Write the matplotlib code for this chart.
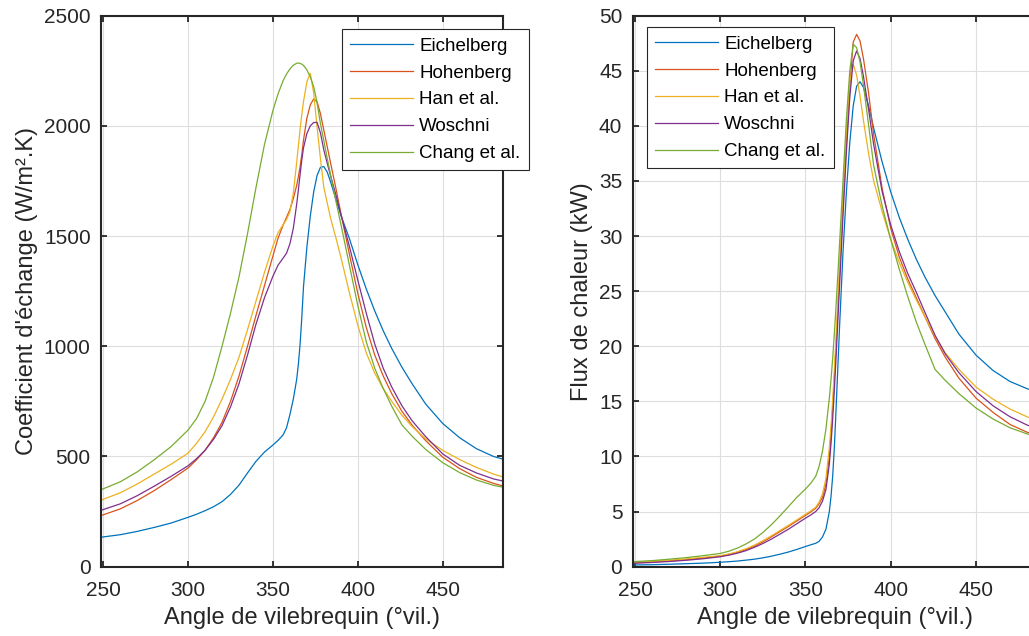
import numpy as np
import matplotlib
matplotlib.use('Agg')
import matplotlib.pyplot as plt

plt.rcParams['font.family'] = ['Liberation Sans', 'DejaVu Sans']

# crank angle (deg), shared by every curve
angle = [248, 260, 270, 280, 290, 300, 305, 310, 315, 320, 325, 330, 335, 340, 345,
         350, 353, 356, 358, 360, 362, 364, 365, 366, 367, 368, 370, 372, 374, 376,
         378, 380, 382, 384, 387, 390, 395, 400, 405, 410, 415, 420, 426, 432, 440,
         450, 460, 470, 480, 486]

names = ["Eichelberg", "Hohenberg", "Han et al.", "Woschni", "Chang et al."]
colors = ["#0072BD", "#D95319", "#EDB120", "#7E2F8E", "#77AC30"]

# heat transfer coefficient (W/m2.K)
h_eich = [133, 145, 160, 178, 198, 224, 238, 254, 272, 295, 328, 370, 425, 478, 520,
          552, 573, 598, 630, 690, 760, 850, 920, 1010, 1130, 1270, 1450, 1590, 1700, 1775,
          1812, 1815, 1790, 1745, 1670, 1595, 1490, 1370, 1260, 1160, 1070, 990, 905, 830, 738,
          650, 585, 535, 500, 487]
h_hohen = [230, 262, 300, 345, 395, 448, 485, 528, 585, 655, 750, 865, 1000, 1140, 1275,
           1410, 1490, 1550, 1585, 1620, 1670, 1730, 1770, 1815, 1870, 1935, 2035, 2095, 2122, 2110,
           2055, 1980, 1905, 1830, 1720, 1605, 1420, 1240, 1085, 960, 865, 785, 705, 642, 572,
           497, 445, 405, 378, 365]
h_han = [300, 335, 375, 420, 465, 515, 560, 612, 680, 760, 850, 950, 1075, 1205, 1335,
         1455, 1515, 1552, 1575, 1610, 1695, 1835, 1910, 1985, 2050, 2110, 2200, 2238, 2150, 1995,
         1850, 1720, 1650, 1580, 1495, 1405, 1245, 1095, 970, 878, 808, 750, 687, 636, 580,
         528, 486, 450, 420, 406]
h_wosch = [254, 285, 322, 365, 410, 458, 490, 528, 578, 640, 725, 830, 960, 1100, 1220,
           1318, 1368, 1400, 1422, 1465, 1535, 1645, 1710, 1780, 1845, 1900, 1965, 2000, 2015, 2016,
           1968, 1890, 1830, 1772, 1690, 1600, 1455, 1300, 1150, 1010, 900, 815, 730, 662, 590,
           512, 460, 425, 398, 388]
h_chang = [347, 385, 430, 485, 545, 620, 672, 750, 860, 1000, 1150, 1315, 1510, 1720, 1915,
           2070, 2145, 2205, 2235, 2258, 2275, 2284, 2285, 2283, 2280, 2274, 2254, 2222, 2178, 2105,
           2010, 1932, 1852, 1776, 1662, 1555, 1370, 1185, 1020, 900, 808, 728, 643, 592, 532,
           472, 427, 393, 369, 360]

# heat flux (kW)
q_eich = [0.15, 0.18, 0.22, 0.27, 0.32, 0.4, 0.45, 0.51, 0.59, 0.68, 0.8, 0.95, 1.13, 1.33, 1.57,
          1.83, 1.98, 2.12, 2.3, 2.7, 3.4, 5.0, 6.4, 8.3, 11.0, 14.5, 21.8, 28.5, 34.0, 38.5,
          41.8, 43.6, 44.0, 43.5, 41.8, 39.8, 36.7, 34.0, 31.7, 29.7, 27.9, 26.3, 24.6, 23.1, 21.1,
          19.2, 17.8, 16.8, 16.15, 15.85]
q_hohen = [0.35, 0.42, 0.52, 0.63, 0.78, 0.95, 1.1, 1.3, 1.55, 1.85, 2.25, 2.7, 3.18, 3.65, 4.15,
           4.65, 4.95, 5.3, 5.7, 6.3, 7.5, 10.0, 12.0, 14.5, 17.3, 20.2, 26.5, 32.8, 38.5, 43.5,
           47.6, 48.3, 47.7, 46.1, 43.0, 39.2, 34.3, 30.7, 28.1, 26.1, 24.4, 22.7, 20.7, 19.0, 17.1,
           15.3, 14.0, 12.9, 12.2, 11.9]
q_han = [0.4, 0.48, 0.58, 0.7, 0.85, 1.0, 1.15, 1.35, 1.62, 1.95, 2.35, 2.8, 3.28, 3.75, 4.25,
         4.75, 5.05, 5.4, 5.85, 6.6, 8.0, 10.8, 12.8, 15.2, 18.0, 21.0, 27.2, 33.5, 39.5, 44.0,
         45.6, 44.6, 42.7, 40.5, 37.5, 35.0, 32.2, 29.7, 27.6, 25.8, 24.2, 22.7, 20.9, 19.4, 17.9,
         16.3, 15.2, 14.3, 13.6, 13.2]
q_wosch = [0.3, 0.38, 0.47, 0.58, 0.72, 0.9, 1.04, 1.22, 1.45, 1.75, 2.1, 2.5, 2.95, 3.4, 3.9,
           4.4, 4.68, 5.0, 5.35, 5.95, 7.0, 9.3, 11.2, 13.5, 16.2, 19.2, 25.5, 31.8, 37.6, 42.6,
           45.9, 46.8, 46.1, 44.5, 41.5, 38.3, 34.0, 31.0, 28.6, 26.6, 24.9, 23.1, 21.0, 19.3, 17.6,
           15.9, 14.6, 13.6, 12.85, 12.5]
q_chang = [0.45, 0.55, 0.68, 0.82, 1.0, 1.2, 1.4, 1.68, 2.05, 2.5, 3.1, 3.8, 4.6, 5.45, 6.3,
           7.05, 7.55, 8.2, 9.1, 10.5, 12.5, 15.3, 17.0, 19.0, 21.3, 23.8, 29.3, 35.0, 40.6, 45.0,
           47.4, 47.1, 45.8, 43.7, 40.1, 36.4, 32.7, 29.7, 27.0, 24.5, 22.2, 20.2, 17.9, 16.9, 15.7,
           14.4, 13.4, 12.6, 12.05, 11.8]

h_all = [h_eich, h_hohen, h_han, h_wosch, h_chang]
q_all = [q_eich, q_hohen, q_han, q_wosch, q_chang]

axcol = "#262626"

fig = plt.figure(figsize=(10.29, 6.36), dpi=100)
ax1 = fig.add_axes([0.0982, 0.109, 0.391, 0.8664])
ax2 = fig.add_axes([0.6149, 0.109, 0.3929, 0.8664])

panels = [
    (ax1, h_all, (0, 2500), np.arange(0, 2501, 500), "Coefficient d'échange (W/m².K)", (341.7, 29.3)),
    (ax2, q_all, (0, 50), np.arange(0, 51, 5), "Flux de chaleur (kW)", (646.7, 27.3)),
]

for ax, data, ylim, yticks, ylabel, legpos in panels:
    for name, vals, col in zip(names, data, colors):
        ax.plot(angle, vals, color=col, lw=0.9, label=name)
    ax.set_xlim(248.7, 485.8)
    ax.set_ylim(*ylim)
    ax.set_xticks([250, 300, 350, 400, 450])
    ax.set_yticks(yticks)
    ax.grid(True, color="#dedede", lw=0.8)
    ax.set_axisbelow(True)
    for s in ax.spines.values():
        s.set_color(axcol)
        s.set_linewidth(1.5)
    ax.tick_params(axis='both', direction='in', length=4, width=1.3, colors=axcol,
                   labelcolor=axcol, labelsize=15, top=True, right=True)
    ax.tick_params(axis='x', pad=10)
    ax.tick_params(axis='y', pad=7.5)
    ax.set_xlabel("Angle de vilebrequin (°vil.)", fontsize=17, color=axcol, labelpad=5)
    ax.set_ylabel(ylabel, fontsize=17, color=axcol, labelpad=4)

    leg = ax.legend(loc='upper left', bbox_to_anchor=(legpos[0] / 1029, 1 - legpos[1] / 636),
                    bbox_transform=fig.transFigure, borderaxespad=0, fontsize=13.5,
                    fancybox=False, framealpha=1, handlelength=3.38, handletextpad=0.32,
                    borderpad=0.44, labelspacing=0.52)
    leg.get_frame().set_edgecolor(axcol)
    leg.get_frame().set_linewidth(0.8)
    for t in leg.get_texts():
        t.set_color("black")

fig.savefig("out.png", dpi=100)
